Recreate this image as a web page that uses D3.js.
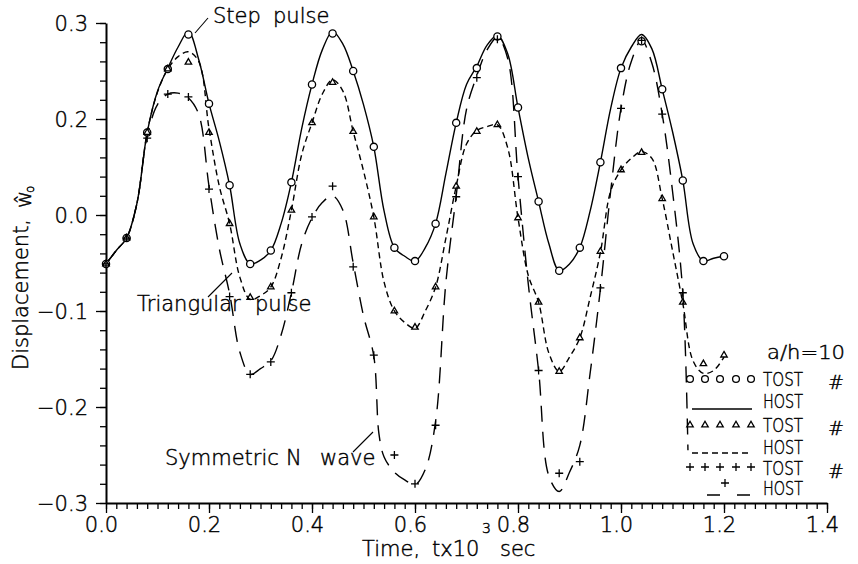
<!DOCTYPE html>
<html><head><meta charset="utf-8">
<script src="https://cdn.jsdelivr.net/npm/d3@7"></script>
<style>
html,body{margin:0;padding:0;background:#fff;}
svg text{font-family:"DejaVu Sans",sans-serif;font-weight:200;fill:#000;stroke:#000;stroke-width:0.45px;}
</style></head>
<body>
<svg id="c" width="858" height="564"></svg>
<script>
// ---------- data ----------
const tTOST = [0,0.04,0.08,0.12,0.16,0.20,0.24,0.28,0.32,0.36,0.40,0.44,0.48,0.52,0.56,0.60,0.64,0.68,0.72,0.76,0.80,0.84,0.88,0.92,0.96,1.00,1.04,1.08,1.12,1.16,1.20];
const stepTOST = [-0.051,-0.024,0.086,0.152,0.188,0.116,0.031,-0.051,-0.037,0.034,0.136,0.189,0.150,0.071,-0.034,-0.048,-0.009,0.096,0.153,0.186,0.112,0.014,-0.058,-0.034,0.055,0.153,0.181,0.131,0.036,-0.048,-0.043];
const triTOST = [-0.051,-0.024,0.086,0.152,0.159,0.086,-0.009,-0.086,-0.075,0.005,0.096,0.138,0.087,-0.002,-0.100,-0.117,-0.075,0.030,0.087,0.094,-0.003,-0.091,-0.163,-0.128,-0.038,0.047,0.065,0.017,-0.091,-0.155,-0.146];
const nTOST = [-0.051,-0.024,0.080,0.126,0.123,0.027,-0.085,-0.166,-0.153,-0.081,-0.002,0.030,-0.054,-0.146,-0.250,-0.280,-0.219,0.019,0.143,0.183,0.040,-0.162,-0.269,-0.257,-0.076,0.111,0.182,0.105,-0.081];

const tHOST = [0,0.02,0.04,0.06,0.08,0.10,0.12,0.14,0.16,0.18,0.20,0.22,0.24,0.26,0.28,0.30,0.32,0.34,0.36,0.38,0.40,0.42,0.44,0.46,0.48,0.50,0.52,0.54,0.56,0.58,0.60,0.62,0.64,0.66,0.68,0.70,0.72,0.74,0.76,0.78,0.80,0.82,0.84,0.86,0.88,0.90,0.92,0.94,0.96,0.98,1.00,1.02,1.04,1.06,1.08,1.10,1.12,1.14,1.16,1.18,1.20];
const stepHOST = [-0.051,-0.037,-0.024,0.012,0.086,0.129,0.153,0.175,0.191,0.162,0.116,0.077,0.031,-0.030,-0.051,-0.047,-0.037,-0.009,0.034,0.090,0.136,0.172,0.191,0.178,0.150,0.115,0.071,0.004,-0.034,-0.043,-0.048,-0.034,-0.009,0.043,0.096,0.136,0.155,0.177,0.187,0.168,0.112,0.059,0.014,-0.030,-0.058,-0.051,-0.034,0.004,0.055,0.111,0.153,0.175,0.188,0.173,0.131,0.087,0.036,-0.030,-0.048,-0.045,-0.043];
const triHOST = [-0.051,-0.037,-0.024,0.012,0.086,0.128,0.152,0.165,0.170,0.160,0.090,0.030,-0.009,-0.065,-0.088,-0.084,-0.075,-0.045,0.005,0.063,0.096,0.126,0.141,0.129,0.087,0.046,-0.002,-0.070,-0.100,-0.112,-0.118,-0.100,-0.075,-0.024,0.030,0.074,0.088,0.092,0.094,0.070,-0.003,-0.063,-0.091,-0.144,-0.163,-0.148,-0.128,-0.086,-0.039,0.025,0.047,0.059,0.066,0.059,0.017,-0.037,-0.092,-0.152,-0.165,-0.162,-0.148];
const tNHOST = [0,0.02,0.04,0.06,0.08,0.10,0.12,0.14,0.16,0.18,0.20,0.22,0.24,0.26,0.28,0.30,0.32,0.34,0.36,0.38,0.40,0.42,0.44,0.46,0.48,0.50,0.52,0.53,0.54,0.56,0.58,0.60,0.62,0.64,0.66,0.68,0.70,0.72,0.74,0.76,0.78,0.80,0.82,0.84,0.86,0.88,0.90,0.92,0.94,0.96,0.98,1.00,1.02,1.04,1.06,1.08,1.10,1.12,1.13];
const nHOST = [-0.051,-0.037,-0.024,0.012,0.082,0.115,0.126,0.127,0.122,0.105,0.030,-0.035,-0.082,-0.143,-0.166,-0.160,-0.152,-0.125,-0.081,-0.030,-0.003,0.013,0.020,0.005,-0.050,-0.105,-0.147,-0.228,-0.252,-0.268,-0.276,-0.281,-0.265,-0.215,-0.070,0.020,0.110,0.145,0.172,0.185,0.163,0.040,-0.072,-0.162,-0.272,-0.288,-0.268,-0.240,-0.165,-0.077,0.025,0.111,0.160,0.182,0.158,0.105,0.025,-0.081,-0.245];

const xTickValues = [0,0.2,0.4,0.6,0.8,1.0,1.2,1.4];
const xTickLabels = ["0.0","0.2","0.4","0.6","0.8","1.0","1.2","1.4"];
const yTickValues = [0.2,0.1,0.0,-0.1,-0.2,-0.3];
const yTickLabels = ["0.3","0.2","0.0","\u22120.1","\u22120.2","\u22120.3"];

// ---------- drawing ----------
const svg = d3.select("#c");
const x = d3.scaleLinear().domain([0,1.4]).range([106,827]);
const y = d3.scaleLinear().domain([-0.3,0.2]).range([503,23]);
const FS = 21;

function zip(t,v){const n=Math.min(t.length,v.length);const a=[];for(let i=0;i<n;i++)a.push([t[i],v[i]]);return a;}

// axes
const xMinor = d3.range(0,1.4001,0.02);
const yMinor = d3.range(-0.3,0.2001,0.02);
const gx = svg.append("g").attr("transform","translate(0,503)");
gx.append("g").call(d3.axisBottom(x).tickValues(xMinor).tickSize(6).tickFormat("").tickSizeOuter(0))
  .call(g=>g.select(".domain").remove());
gx.append("g").call(d3.axisBottom(x).tickValues(xTickValues).tickSize(10).tickPadding(4).tickSizeOuter(0)
  .tickFormat((d,i)=>xTickLabels[i]));
gx.selectAll("line").attr("stroke","#000").attr("stroke-width",1.3);
gx.selectAll(".domain").attr("stroke","#000").attr("stroke-width",2);
gx.selectAll("text").attr("font-size",FS).attr("x",-5);

const gy = svg.append("g").attr("transform","translate(106,0)");
gy.append("g").call(d3.axisLeft(y).tickValues(yMinor).tickSize(6).tickFormat("").tickSizeOuter(0))
  .call(g=>g.select(".domain").remove());
gy.append("g").call(d3.axisLeft(y).tickValues(yTickValues).tickSize(10).tickPadding(8).tickSizeOuter(0)
  .tickFormat((d,i)=>yTickLabels[i]));
gy.selectAll("line").attr("stroke","#000").attr("stroke-width",1.3);
gy.selectAll(".domain").attr("stroke","#000").attr("stroke-width",2);
gy.selectAll("text").attr("font-size",FS).attr("dy","0.38em");
svg.selectAll(".tick text").attr("font-family",null);

// curves
const line = d3.line().x(d=>x(d[0])).y(d=>y(d[1])).curve(d3.curveCatmullRom.alpha(0.5));
const gc = svg.append("g").attr("fill","none").attr("stroke","#000").attr("stroke-width",1.4);
gc.append("path").attr("d",line(zip(tHOST,stepHOST)));
gc.append("path").attr("d",line(zip(tHOST,triHOST))).attr("stroke-dasharray","6,4");
gc.append("path").attr("d",line(zip(tNHOST,nHOST))).attr("stroke-dasharray","16,10");

// markers
const gm = svg.append("g").attr("fill","none").attr("stroke","#000").attr("stroke-width",1.3);
const tri = d3.symbol(d3.symbolTriangle,18)();
const plus = "M-4,0H4M0,-4V4";
gm.selectAll(".c").data(zip(tTOST,stepTOST)).join("circle")
  .attr("cx",d=>x(d[0])).attr("cy",d=>y(d[1])).attr("r",3.6).attr("fill","#fff");
gm.selectAll(".t").data(zip(tTOST,triTOST)).join("path").attr("class","t")
  .attr("d",tri).attr("transform",d=>`translate(${x(d[0])},${y(d[1])})`);
gm.selectAll(".p").data(zip(tTOST,nTOST)).join("path").attr("class","p")
  .attr("d",plus).attr("transform",d=>`translate(${x(d[0])},${y(d[1])})`);

// annotations
const ga = svg.append("g");
ga.append("g").attr("stroke","#000").attr("stroke-width",1.1).selectAll("line")
  .data([[195,33,208,18],[208,297,232,273],[353,452,373,432]]).join("line")
  .attr("x1",d=>d[0]).attr("y1",d=>d[1]).attr("x2",d=>d[2]).attr("y2",d=>d[3]);
function words(parts,yb,fs){const t=ga.append("text").attr("font-size",fs||FS).attr("y",yb);
  parts.forEach(p=>t.append("tspan").attr("x",p[1]).text(p[0]));}
words([["Step",213],["pulse",273]],23);
words([["Triangular",137],["pulse",255]],311);
words([["Symmetric",165],["N",286],["wave",320]],465);

// axis titles
const xt = svg.append("text").attr("font-size",FS).attr("y",556);
xt.append("tspan").attr("x",362).text("Time,");
xt.append("tspan").attr("x",432).text("tx10");
xt.append("tspan").attr("x",500).text("sec");
svg.append("text").attr("font-size",14).attr("transform","translate(482,533)").text("3");

svg.append("text").attr("font-size",FS).attr("transform","translate(28,370) rotate(-90)").text("Displacement,");
svg.append("text").attr("font-size",FS).attr("transform","translate(31,208) rotate(-90)").text("\u0175");
svg.append("text").attr("font-size",12).attr("transform","translate(34,193) rotate(-90)").text("o");

// legend
const LFS = 19;
const gl = svg.append("g");
gl.append("text").attr("x",767).attr("y",359).attr("font-size",LFS).attr("textLength",78).attr("lengthAdjust","spacingAndGlyphs").text("a/h=10");
const rows = [["TOST",386,true],["HOST",408,false],["TOST",432,true],["HOST",454,false],["TOST",475,true],["HOST",495,false]];
rows.forEach(r=>{
  gl.append("text").attr("x",763).attr("y",r[1]).attr("font-size",LFS)
    .attr("textLength",40).attr("lengthAdjust","spacingAndGlyphs").text(r[0]);
  if(r[2]) gl.append("text").attr("x",828).attr("y",r[1]+3).attr("font-size",LFS).text("#");
});
const lx = [690,705,720,736,751];
const gls = gl.append("g").attr("fill","none").attr("stroke","#000").attr("stroke-width",1.3);
gls.selectAll(".lc").data(lx).join("circle").attr("class","lc").attr("cx",d=>d).attr("cy",379).attr("r",3.4);
gls.selectAll(".lt").data(lx).join("path").attr("class","lt").attr("d",tri).attr("transform",d=>`translate(${d},425)`);
gls.selectAll(".lp").data(lx).join("path").attr("class","lp").attr("d",plus).attr("transform",d=>`translate(${d},467)`);
gls.append("line").attr("x1",692).attr("x2",752).attr("y1",409).attr("y2",409);
gls.append("line").attr("x1",692).attr("x2",752).attr("y1",453).attr("y2",453).attr("stroke-dasharray","6,4");
gls.append("line").attr("x1",707).attr("x2",752).attr("y1",495).attr("y2",495).attr("stroke-dasharray","13,17");
gls.append("path").attr("d",plus).attr("transform","translate(725,483)");
</script>
</body></html>
